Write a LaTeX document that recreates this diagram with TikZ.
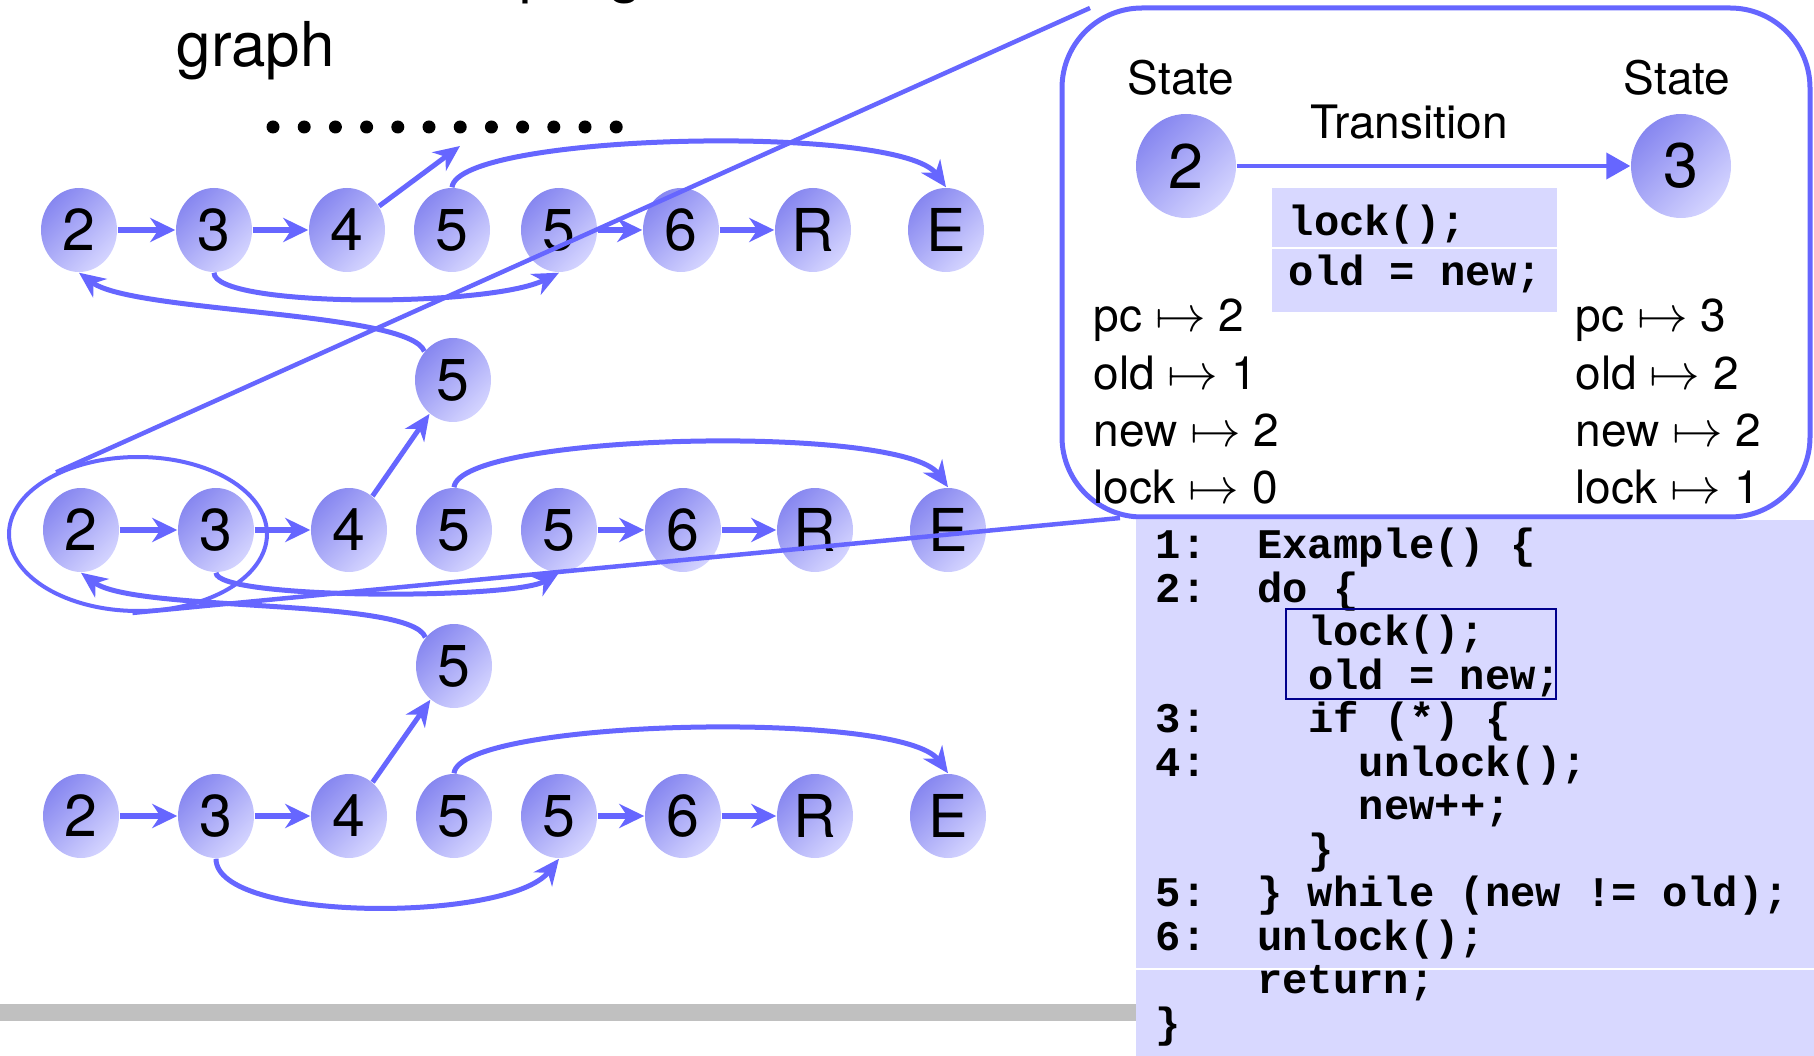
\documentclass[tikz,border=0pt]{standalone}
\usepackage{fontspec}
\setmainfont{TeX Gyre Heros}
\setmonofont{Liberation Mono}
\usetikzlibrary{arrows.meta,shapes.geometric}
\definecolor{edgeblue}{RGB}{102,102,255}
\definecolor{nodedark}{RGB}{135,135,240}
\definecolor{nodelight}{RGB}{212,212,255}
\definecolor{codebg}{RGB}{216,216,255}
\definecolor{framenavy}{RGB}{0,0,140}
\definecolor{bargray}{RGB}{192,192,192}
\newcommand{\mapsymb}{\scalebox{1.2}{$\mapsto$}}
\tikzset{
  stnode/.style={ellipse, minimum width=7.6mm, minimum height=8.4mm, inner sep=0pt,
    top color=nodedark, bottom color=nodelight, shading angle=45,
    font=\fontsize{16.8pt}{18pt}\selectfont},
  bigst/.style={stnode, minimum width=10mm, minimum height=10.4mm,
    font=\fontsize{17.9pt}{20pt}\selectfont},
  flow/.style={edgeblue, line width=0.6mm, -{Stealth[length=2.5mm,width=2.4mm,inset=0.8mm]}},
  jump/.style={edgeblue, line width=0.5mm, -{Stealth[length=2.6mm,width=2.3mm,inset=0.8mm]}},
  zoomline/.style={edgeblue, line width=0.45mm},
  lbl/.style={font=\fontsize{13.1pt}{15pt}\selectfont, inner sep=0pt},
  codetxt/.style={font=\fontsize{12pt}{14pt}\ttfamily\bfseries, inner sep=0pt, anchor=base west},
}
\begin{document}
\begin{tikzpicture}[x=0.1mm, y=-0.1mm]
\useasboundingbox (0,0) rectangle (1814,1056);

% heading
\node[anchor=base west, inner sep=0pt, font=\fontsize{17.6pt}{20pt}\selectfont] (head1) at (519,-9) {program};
\node[anchor=base west, inner sep=0pt, font=\fontsize{17.6pt}{20pt}\selectfont] (head2) at (176,67) {graph};
\foreach \i in {0,...,11} \fill (273+31.2*\i,127) circle[radius=0.65mm];

% footer bar and code listing background
\fill[bargray] (0,1004) rectangle (1136,1021);
\fill[codebg] (1136,520) rectangle (1814,1056);
\draw[white, line width=0.25mm] (1136,969) -- (1814,969);

% unrolled state graph, three copies
\foreach \rw/\y/\dx in {a/230/0, b/530/2, c/816/2} {
  \node[stnode] (\rw-2) at (79+\dx,\y) {2};
  \node[stnode] (\rw-3) at (214+\dx,\y) {3};
  \node[stnode] (\rw-4) at (347+\dx,\y) {4};
  \node[stnode] (\rw-5) at (452+\dx,\y) {5};
  \node[stnode] (\rw-5b) at (559,\y) {5};
  \node[stnode] (\rw-6) at (681+\dx,\y) {6};
  \node[stnode] (\rw-R) at (813+\dx,\y) {R};
  \node[stnode] (\rw-E) at (946+\dx,\y) {E};
}
\node[stnode] (m1) at (453,380) {5};
\node[stnode] (m2) at (454,666) {5};

\foreach \rw in {a,b,c} {
  \draw[flow] (\rw-2) -- (\rw-3);
  \draw[flow] (\rw-3) -- (\rw-4);
  \draw[flow] (\rw-5b) -- (\rw-6);
  \draw[flow] (\rw-6) -- (\rw-R);
  \draw[jump] (\rw-5.north) .. controls +(6,-54) and +(-46,-64) .. (\rw-E.north);
}
\draw[jump] (a-3.south) .. controls +(0,35) and +(-70,35) .. (a-5b.south);
\draw[jump] (b-3.south) .. controls +(0,27) and +(-45,27) .. (b-5b.south);
\draw[jump] (c-3.south) .. controls +(0,64) and +(-50,64) .. (c-5b.south);

\coordinate (up1) at (460,146);
\draw[jump] (a-4) -- (up1);
\draw[jump] (b-4) -- (m1);
\draw[jump] (c-4) -- (m2);
\draw[jump] (m1.135) .. controls +(-15,-40) and +(54,40) .. (a-2.south);
\draw[jump] (m2.135) .. controls +(-15,-40) and +(54,40) .. (b-2.south);

% highlighted pair and zoom lines
\node[draw=edgeblue, line width=0.4mm, ellipse, minimum width=25.8mm, minimum height=15.4mm, inner sep=0pt] (focus) at (138,534) {};
\coordinate (boxtop) at (1090,8);
\coordinate (boxbot) at (1120,518);
\draw[zoomline] (focus.143) -- (boxtop);
\draw[zoomline] (focus.266) -- (boxbot);

% detail of one transition
\draw[edgeblue, line width=0.5mm, rounded corners=8mm] (1062,8) rectangle (1810,517);
\node[lbl, anchor=base] (sl1) at (1181,95) {State};
\node[lbl, anchor=base] (sl2) at (1677,95) {State};
\node[lbl, anchor=base] (trl) at (1409,139) {Transition};
\node[bigst] (s2) at (1186,166) {2};
\node[bigst] (s3) at (1681,166) {3};
\draw[edgeblue, line width=0.4mm, -{Triangle[length=2.4mm,width=2.6mm]}] (s2) -- (s3);

\fill[codebg] (1272,188) rectangle (1557,312);
\draw[white, line width=0.25mm] (1272,248) -- (1557,248);
\node[codetxt] (t1) at (1288,236) {lock();};
\node[codetxt] (t2) at (1288,286) {old = new;};

\foreach \txt [count=\k] in {pc \mapsymb{} 2, old \mapsymb{} 1, new \mapsymb{} 2, lock \mapsymb{} 0}
  \node[lbl, anchor=base west] (vl\k) at (1093,332+57.3*\k-57.3) {\txt};
\foreach \txt [count=\k] in {pc \mapsymb{} 3, old \mapsymb{} 2, new \mapsymb{} 2, lock \mapsymb{} 1}
  \node[lbl, anchor=base west] (vr\k) at (1575,332+57.3*\k-57.3) {\txt};

% program listing
\foreach \n/\y in {1/558, 2/602, 3/732, 4/776, 5/906, 6/950}
  \node[codetxt] (ln\n) at (1155,\y) {\n:};
\node[codetxt] (c1) at (1256.6,558) {Example() \{};
\node[codetxt] (c2) at (1256.6,602) {do \{};
\node[codetxt] (c3) at (1307.4,645) {lock();};
\node[codetxt] (c4) at (1307.4,689) {old = new;};
\node[codetxt] (c5) at (1307.4,732) {if (*) \{};
\node[codetxt] (c6) at (1358.2,776) {unlock();};
\node[codetxt] (c7) at (1358.2,819) {new++;};
\node[codetxt] (c8) at (1307.4,863) {\}};
\node[codetxt] (c9) at (1256.6,906) {\} while (new != old);};
\node[codetxt] (c10) at (1256.6,950) {unlock();};
\node[codetxt] (c11) at (1256.6,993) {return;};
\node[codetxt] (c12) at (1155,1037) {\}};
\draw[framenavy, line width=0.22mm] (1286,609) rectangle (1556,699);
\end{tikzpicture}
\end{document}
